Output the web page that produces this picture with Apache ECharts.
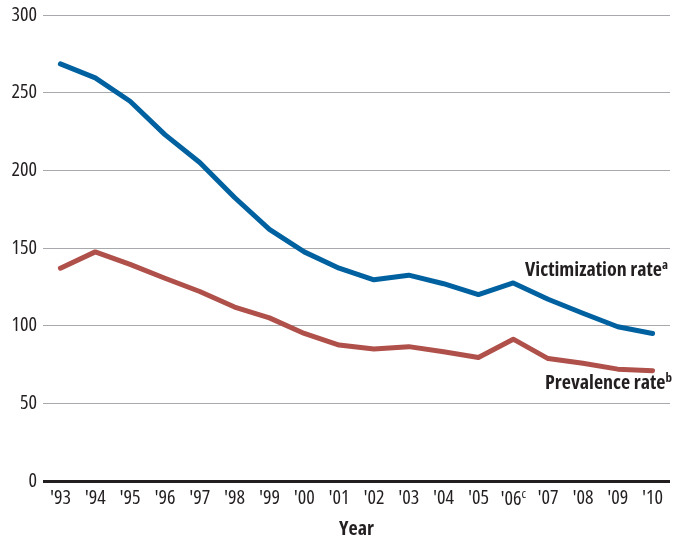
<!DOCTYPE html>
<html><head><meta charset="utf-8">
<script src="https://cdn.jsdelivr.net/npm/echarts@6/dist/echarts.min.js"></script>
<style>html,body{margin:0;padding:0;background:#fff}#c{width:674px;height:540px}</style>
</head><body><div id="c"></div>
<script>
const years = ["'93","'94","'95","'96","'97","'98","'99","'00","'01","'02","'03","'04","'05","'06","'07","'08","'09","'10"];
const victimization = [268.5,259.5,244.5,223,205,182.5,162,147.5,137,129.5,132.5,127,120,127.5,117,108,99.3,95];
const prevalence = [137,147.5,139.5,130.5,122,112,105,95,87.5,85,86.5,83.2,79.5,91.3,78.8,75.8,72,71];
const yTicks = [0,50,100,150,200,250,300];
const FONT = "'Open Sans'";
const FS = 'condensed';
const INK = '#231f20';
const chart = echarts.init(document.getElementById('c'), null, {renderer:'canvas'});
const sup = {fontSize:13,fontStyle:FS,verticalAlign:'top',padding:[0,0,9,0],fontFamily:FONT,color:INK};
chart.setOption({
  animation:false,
  grid:{left:43,right:4,top:15,bottom:59,containLabel:false,outerBoundsMode:'none'},
  xAxis:{type:'category',data:years,boundaryGap:true,
    name:'Year',nameLocation:'middle',nameGap:38,
    nameTextStyle:{fontFamily:FONT,fontStyle:FS,fontSize:20,fontWeight:'bold',color:INK},
    axisLine:{show:false},axisTick:{show:false},
    axisLabel:{interval:0,margin:7,fontFamily:FONT,fontStyle:FS,fontSize:20,color:INK,
      formatter:v=> v==="'06" ? v+'{s|c}' : v,
      rich:{s:sup}}
  },
  yAxis:{type:'value',min:0,max:300,interval:50,
    axisLine:{show:false},axisTick:{show:false},
    axisLabel:{margin:6,fontFamily:FONT,fontStyle:FS,fontSize:20,color:INK,
      formatter:v=> yTicks.includes(v)? String(v):''},
    splitLine:{lineStyle:{color:'#a7a9ac',width:1.2}}
  },
  series:[
    {type:'line',data:victimization,symbol:'none',lineStyle:{color:'#0061a0',width:5,cap:'round',join:'round'},z:3},
    {type:'line',data:prevalence,symbol:'none',lineStyle:{color:'#b0504a',width:5,cap:'round',join:'round'},z:3,
      markLine:{silent:true,symbol:'none',label:{show:false},lineStyle:{color:INK,width:3,type:'solid'},data:[{yAxis:0}]}}
  ],
  graphic:[
    {type:'text',right:6,top:259,style:{text:'Victimization rate{s|a}',fontFamily:FONT,fontStyle:FS,fontSize:20,fontWeight:'bold',fill:INK,
      rich:{s:Object.assign({},sup,{fontWeight:'bold'})}}},
    {type:'text',right:2,top:372,style:{text:'Prevalence rate{s|b}',fontFamily:FONT,fontStyle:FS,fontSize:20,fontWeight:'bold',fill:INK,
      rich:{s:Object.assign({},sup,{fontWeight:'bold'})}}}
  ]
});
</script></body></html>
